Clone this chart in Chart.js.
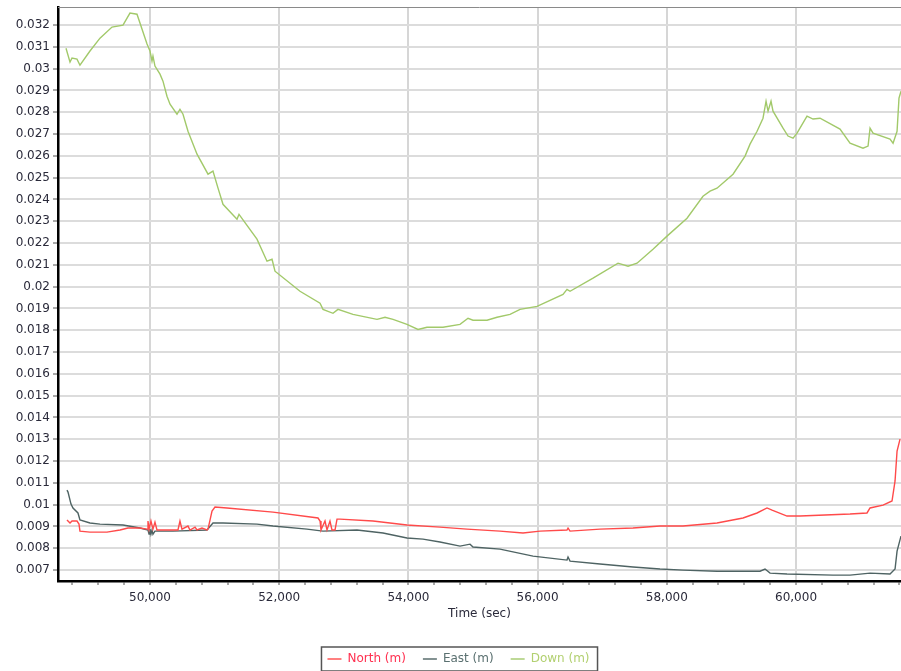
<!DOCTYPE html>
<html lang="en">
<head>
  <meta charset="UTF-8">
  <title>North / East / Down</title>
  <script src="https://cdn.jsdelivr.net/npm/chart.js"></script>
  <style>
    html, body {
      margin: 0;
      padding: 0;
      background: white;
    }
    canvas {
      display: block;
    }
  </style>
</head>
<body>
  <canvas id="nedChart" width="901" height="671"></canvas>

  <script>
    const seriesNames = ['North (m)', 'East (m)', 'Down (m)'];

    const northTime = [48715, 48762, 48793, 48870, 48901, 48916, 49071, 49334, 49536, 49659, 49845, 49954,
      49969, 49985, 50015, 50046, 50077, 50108, 50433, 50464, 50495, 50588, 50619, 50697, 50728, 50805,
      50882, 50898, 50960, 51006, 51192, 51904, 52601, 52632, 52647, 52709, 52740, 52786, 52817, 52864,
      52895, 52941, 53452, 53978, 54489, 54907, 55418, 55774, 56037, 56455, 56471, 56502, 56966, 57477,
      57895, 58251, 58777, 59180, 59397, 59551, 59629, 59861, 60062, 60836, 61099, 61146, 61347, 61486,
      61533, 61564, 61610];
    const northValues = [0.0093, 0.00916, 0.00925, 0.00925, 0.00911, 0.00879, 0.00874, 0.00874, 0.00884,
      0.00893, 0.00893, 0.00888, 0.00925, 0.00888, 0.00925, 0.00888, 0.0092, 0.00884, 0.00884, 0.00925,
      0.00888, 0.00902, 0.00884, 0.00897, 0.00884, 0.00893, 0.00884, 0.00888, 0.00971, 0.00989, 0.00985,
      0.00966, 0.00939, 0.00925, 0.00884, 0.00925, 0.00884, 0.00925, 0.00884, 0.00884, 0.00934, 0.00934,
      0.00925, 0.00907, 0.00897, 0.00888, 0.00879, 0.0087, 0.00879, 0.00884, 0.00893, 0.00879, 0.00888,
      0.00893, 0.00902, 0.00902, 0.00916, 0.00939, 0.00962, 0.00985, 0.00975, 0.00948, 0.00948, 0.00957,
      0.00962, 0.00985, 0.00998, 0.01017, 0.01109, 0.01246, 0.01301];

    const eastTime = [48715, 48731, 48777, 48808, 48885, 48916, 49071, 49226, 49582, 49845, 49969, 49985,
      50000, 50015, 50031, 50046, 50077, 50356, 50882, 50975, 51130, 51656, 51904, 52430, 52678, 53204,
      53607, 53978, 54226, 54489, 54799, 54954, 55000, 55418, 55929, 56455, 56471, 56502, 56966, 57477,
      57895, 58251, 58777, 59443, 59520, 59598, 59861, 60573, 60836, 61146, 61455, 61533, 61564, 61625];
    const eastValues = [0.01067, 0.01058, 0.01003, 0.00985, 0.00962, 0.0093, 0.00916, 0.00911, 0.00907,
      0.00893, 0.00884, 0.00865, 0.00888, 0.00865, 0.00884, 0.00865, 0.00879, 0.00879, 0.00884, 0.00916,
      0.00916, 0.00911, 0.00902, 0.00888, 0.00879, 0.00884, 0.0087, 0.00847, 0.00842, 0.00829, 0.0081,
      0.00819, 0.00806, 0.00796, 0.00764, 0.00746, 0.0076, 0.00741, 0.00728, 0.00714, 0.00705, 0.007,
      0.00695, 0.00695, 0.00705, 0.00686, 0.00682, 0.00677, 0.00677, 0.00686, 0.00682, 0.00705, 0.00787,
      0.00856];

    const downTime = [48700, 48762, 48793, 48870, 48916, 49071, 49226, 49412, 49582, 49690, 49799, 49876,
      49954, 50000, 50031, 50046, 50077, 50155, 50201, 50263, 50310, 50418, 50464, 50511, 50588, 50728,
      50898, 50975, 51053, 51130, 51347, 51378, 51656, 51811, 51889, 51935, 52322, 52632, 52678, 52833,
      52910, 53142, 53514, 53638, 53762, 53978, 54149, 54288, 54536, 54799, 54923, 55000, 55217, 55372,
      55573, 55728, 55991, 56393, 56455, 56502, 56858, 57245, 57400, 57539, 57786, 58003, 58313, 58560,
      58669, 58777, 59025, 59211, 59288, 59397, 59489, 59536, 59567, 59613, 59644, 59799, 59876, 59954,
      60016, 60170, 60263, 60372, 60681, 60836, 61037, 61115, 61146, 61192, 61455, 61502, 61564, 61594,
      61625];
    const downValues = [0.03094, 0.0303, 0.03049, 0.03044, 0.03016, 0.03081, 0.0314, 0.03191, 0.032,
      0.03255, 0.0325, 0.03182, 0.03113, 0.03081, 0.03035, 0.03058, 0.03012, 0.02975, 0.02943, 0.02874,
      0.02837, 0.02791, 0.02814, 0.02791, 0.02713, 0.02608, 0.02516, 0.0253, 0.02452, 0.02378, 0.0231,
      0.02332, 0.02218, 0.02117, 0.02126, 0.02071, 0.01979, 0.01924, 0.01896, 0.01878, 0.01896, 0.01873,
      0.0185, 0.0186, 0.0185, 0.01827, 0.01804, 0.01814, 0.01814, 0.01827, 0.01855, 0.01846, 0.01846,
      0.0186, 0.01873, 0.01896, 0.0191, 0.01965, 0.01988, 0.01979, 0.02039, 0.02108, 0.02094, 0.02108,
      0.02172, 0.02232, 0.02314, 0.02415, 0.02438, 0.02452, 0.02516, 0.02599, 0.02654, 0.02713, 0.02773,
      0.02851, 0.02805, 0.02851, 0.02805, 0.02727, 0.02691, 0.02681, 0.02704, 0.02782, 0.02769, 0.02773,
      0.02723, 0.02658, 0.02635, 0.02645, 0.02727, 0.02704, 0.02677, 0.02658, 0.02713, 0.02865, 0.02897];

    // x axis: labelled ticks every 2000 s, minor ticks every 400 s
    const xRange = [48576, 61625];
    const xMinorStep = 400;
    const xMajorStep = 2000;

    const lineColors = ['#ff4a4a', '#4e6363', '#a2c96a'];
    const textColors = ['#ff3050', '#5a7070', '#b2d070'];

    function toPoints(times, values) {
      return times.map((t, i) => ({ x: t, y: values[i] }));
    }

    function isMajor(v) {
      return Math.round(v) % xMajorStep === 0;
    }

    Chart.defaults.font.family = '"DejaVu Sans", Verdana, sans-serif';
    Chart.defaults.font.size = 12;
    Chart.defaults.color = '#2a2a3a';

    // frame line on top of the plot and box around the legend
    const framePlugin = {
      id: 'frame',
      afterLayout(chart) {
        chart.legend.left += 8;
        chart.legend.right += 8;
        chart.legend.top += 15;
        chart.legend.bottom += 15;
      },
      afterDraw(chart) {
        const ctx = chart.ctx;
        const area = chart.chartArea;
        ctx.save();
        ctx.strokeStyle = '#8a8a8a';
        ctx.lineWidth = 1;
        ctx.beginPath();
        ctx.moveTo(area.left, area.top + 0.5);
        ctx.lineTo(area.right, area.top + 0.5);
        ctx.stroke();

        const boxes = chart.legend.legendHitBoxes;
        if (boxes && boxes.length) {
          const first = boxes[0];
          const last = boxes[boxes.length - 1];
          const x1 = first.left - 6;
          const x2 = last.left + last.width + 8;
          const y1 = first.top - 6;
          const y2 = first.top + first.height + 6;
          ctx.strokeStyle = '#555555';
          ctx.lineWidth = 1.5;
          ctx.strokeRect(x1, y1, x2 - x1, y2 - y1);
        }
        ctx.restore();
      }
    };

    const datasets = [
      { label: seriesNames[0], data: toPoints(northTime, northValues) },
      { label: seriesNames[1], data: toPoints(eastTime, eastValues) },
      { label: seriesNames[2], data: toPoints(downTime, downValues) }
    ].map((d, i) => Object.assign(d, {
      borderColor: lineColors[i],
      backgroundColor: lineColors[i],
      borderWidth: 1.4,
      pointRadius: 0,
      tension: 0,
      fill: false
    }));

    new Chart(document.getElementById('nedChart'), {
      type: 'line',
      data: { datasets: datasets },
      options: {
        responsive: false,
        animation: false,
        layout: {
          padding: { top: 7, left: 0, right: 0, bottom: 11 }
        },
        scales: {
          x: {
            type: 'linear',
            min: xRange[0],
            max: xRange[1],
            afterBuildTicks: scale => {
              const ticks = [];
              for (let v = Math.ceil(xRange[0] / xMinorStep) * xMinorStep; v <= xRange[1]; v += xMinorStep) {
                ticks.push({ value: v });
              }
              scale.ticks = ticks;
            },
            afterFit: scale => {
              scale.height = 40;
              scale.paddingLeft = 0;
              scale.paddingRight = 0;
            },
            border: { color: '#000000', width: 2.5 },
            grid: {
              color: ctx => (ctx.tick && isMajor(ctx.tick.value)) ? '#d6d6d6' : 'rgba(0,0,0,0)',
              lineWidth: 2,
              tickColor: '#555555',
              tickLength: 4,
              tickWidth: 1
            },
            ticks: {
              autoSkip: false,
              maxRotation: 0,
              padding: 6,
              callback: v => isMajor(v) ? Math.round(v).toLocaleString('en-US') : ''
            },
            title: {
              display: true,
              text: 'Time (sec)',
              padding: { top: 0, bottom: 0 }
            }
          },
          y: {
            min: 0.0065,
            max: 0.03283,
            afterFit: scale => {
              scale.width = 58;
              scale.paddingTop = 0;
              scale.paddingBottom = 0;
            },
            border: { color: '#000000', width: 2.5 },
            grid: {
              color: '#dcdcdc',
              lineWidth: 2,
              tickColor: '#555555',
              tickLength: 5,
              tickWidth: 1
            },
            ticks: {
              stepSize: 0.001,
              includeBounds: false,
              autoSkip: false,
              padding: 3,
              callback: v => String(parseFloat(v.toFixed(3)))
            }
          }
        },
        plugins: {
          legend: {
            position: 'bottom',
            labels: {
              usePointStyle: true,
              pointStyle: 'line',
              pointStyleWidth: 14,
              padding: 17,
              generateLabels: chart => chart.data.datasets.map((d, i) => ({
                text: d.label,
                datasetIndex: i,
                strokeStyle: lineColors[i],
                fillStyle: lineColors[i],
                fontColor: textColors[i],
                lineWidth: 1.4,
                pointStyle: 'line',
                hidden: false
              }))
            }
          },
          tooltip: { enabled: false }
        }
      },
      plugins: [framePlugin]
    });
  </script>
</body>
</html>
